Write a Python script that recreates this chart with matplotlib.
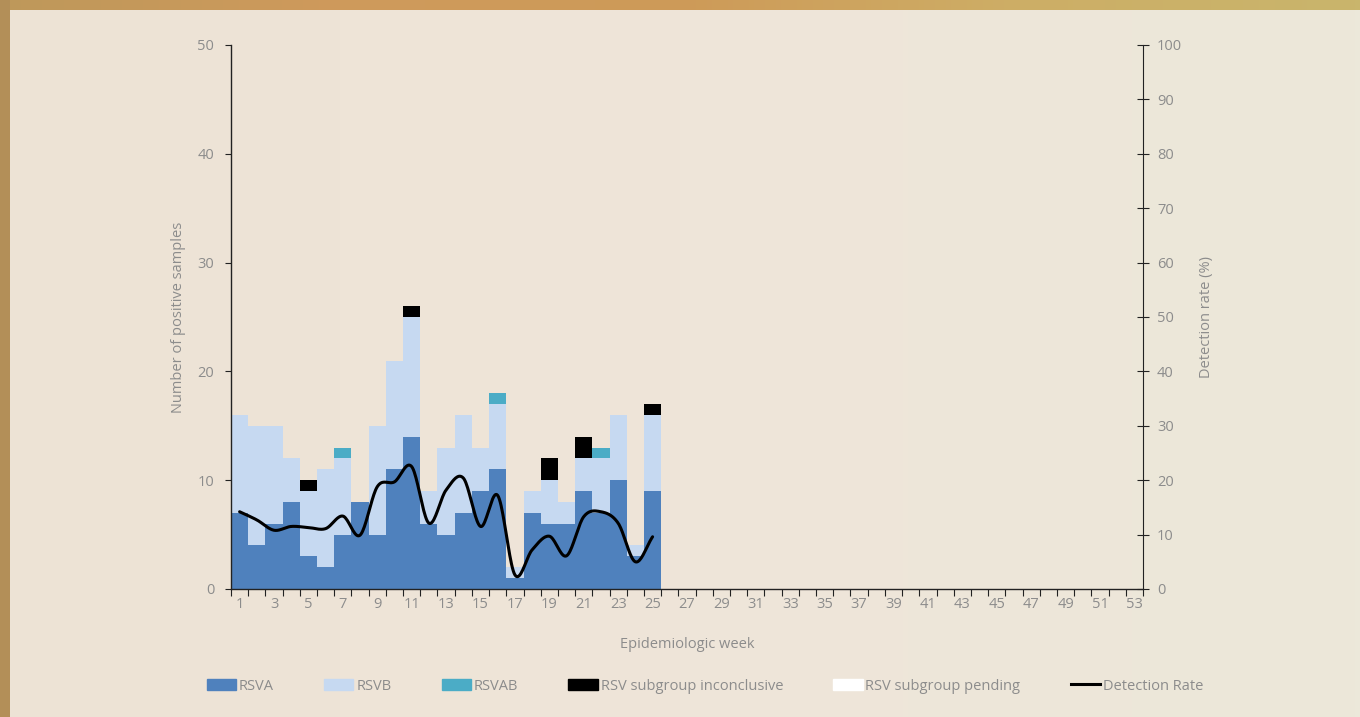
import numpy as np
import matplotlib as mpl
mpl.use('Agg')
import matplotlib.pyplot as plt
from matplotlib.patches import Rectangle
from matplotlib.lines import Line2D

plt.rcParams['font.family'] = ['Open Sans', 'DejaVu Sans']

# epidemiologic weeks shown on the axis
weeks = list(range(1, 54))

# weekly counts (weeks 1-25 reported, rest empty)
rsva = [7, 4, 6, 8, 3, 2, 5, 8, 5, 11, 14, 6, 5, 7, 9, 11, 1, 7, 6, 6, 9, 7, 10, 3, 9]
rsvb = [9, 11, 9, 4, 6, 9, 7, 0, 10, 10, 11, 3, 8, 9, 4, 6, 1, 2, 4, 2, 3, 5, 6, 1, 7]
rsvab = [0, 0, 0, 0, 0, 0, 1, 0, 0, 0, 0, 0, 0, 0, 0, 1, 0, 0, 0, 0, 0, 1, 0, 0, 0]
inconclusive = [0, 0, 0, 0, 1, 0, 0, 0, 0, 0, 1, 0, 0, 0, 0, 0, 0, 0, 2, 0, 2, 0, 0, 0, 1]
pending = [0] * 25

# detection rate (%)
rate = [14.2, 12.7, 10.8, 11.5, 11.3, 11.1, 13.4, 9.9, 18.8, 19.7, 22.5, 12.1, 18.2,
        20.4, 11.5, 17.2, 2.6, 7.2, 9.7, 6.1, 13.3, 14.2, 12.1, 5.0, 9.6]

C_A = '#4f81bd'
C_B = '#c6d9f1'
C_AB = '#4bacc6'
C_INC = '#000000'
C_PEN = '#ffffff'
GRAY = '#8c8c8c'


def pad(v):
    return np.array(v + [0] * (len(weeks) - len(v)), dtype=float)


def smooth(x, y, n=20):
    # catmull-rom curve through the points (drawing only)
    x = np.asarray(x, float)
    y = np.asarray(y, float)
    px = np.concatenate([[2 * x[0] - x[1]], x, [2 * x[-1] - x[-2]]])
    py = np.concatenate([[2 * y[0] - y[1]], y, [2 * y[-1] - y[-2]]])
    xs, ys = [], []
    t = np.linspace(0, 1, n, endpoint=False)
    for i in range(1, len(px) - 2):
        for p, out in ((px, xs), (py, ys)):
            p0, p1, p2, p3 = p[i - 1], p[i], p[i + 1], p[i + 2]
            out.extend(0.5 * (2 * p1 + (-p0 + p2) * t + (2 * p0 - 5 * p1 + 4 * p2 - p3) * t ** 2
                              + (-p0 + 3 * p1 - 3 * p2 + p3) * t ** 3))
    xs.append(x[-1])
    ys.append(y[-1])
    return xs, ys


fig = plt.figure(figsize=(13.6, 7.17), dpi=100)
fig.patch.set_facecolor('#ede4d6')

# background frame
bg = fig.add_axes([0, 0, 1, 1], zorder=-10)
bg.set_axis_off()
grad = np.linspace(0, 1, 256).reshape(1, -1)
cream = mpl.colors.LinearSegmentedColormap.from_list('c', ['#ede3d5', '#efe5d9', '#ece8da'])
bg.imshow(grad, aspect='auto', cmap=cream, extent=[0, 1, 0, 1])
gold = mpl.colors.LinearSegmentedColormap.from_list('g', ['#be985a', '#cf9a5c', '#cd9a58', '#cdae66', '#c9b56c'])
bg.imshow(grad, aspect='auto', cmap=gold, extent=[0, 1, 1 - 10 / 717, 1])
bg.add_patch(Rectangle((0, 0), 10 / 1360, 1, color='#b38f58', lw=0))
bg.set_xlim(0, 1)
bg.set_ylim(0, 1)

ax = fig.add_axes([231 / 1360, 1 - 589 / 717, (1143 - 231) / 1360, (589 - 45) / 717])
ax.set_facecolor('none')

x = np.array(weeks)
a, b, ab, inc, pen = pad(rsva), pad(rsvb), pad(rsvab), pad(inconclusive), pad(pending)
bottom = np.zeros(len(weeks))
for vals, col in ((a, C_A), (b, C_B), (ab, C_AB), (inc, C_INC), (pen, C_PEN)):
    ax.bar(x, vals, width=1.0, bottom=bottom, color=col, linewidth=0)
    bottom += vals

ax.set_xlim(0.5, 53.5)
ax.set_ylim(0, 50)
ax.set_yticks(range(0, 51, 10))
ax.set_xticks(np.arange(0.5, 54, 1))
ax.set_xticklabels([])
ax.set_xticks(weeks[::2], minor=True)
ax.set_xticklabels([str(w) for w in weeks[::2]], minor=True)
ax.tick_params(axis='x', which='major', length=5, color='#222222', width=0.8)
ax.tick_params(axis='x', which='minor', length=0, pad=6, labelsize=10.5, labelcolor=GRAY)
ax.tick_params(axis='y', length=4, color='#222222', width=0.8, labelsize=10.5, labelcolor=GRAY, pad=8)
for s in ('top', 'right'):
    ax.spines[s].set_visible(False)
for s in ('left', 'bottom'):
    ax.spines[s].set_color('#222222')
    ax.spines[s].set_linewidth(1.0)
ax.set_ylabel('Number of positive samples', color=GRAY, fontsize=10.5, labelpad=8)
ax.set_xlabel('Epidemiologic week', color=GRAY, fontsize=10.5, labelpad=18)

ax2 = ax.twinx()
ax2.set_ylim(0, 100)
ax2.set_yticks(range(0, 101, 10))
sx, sy = smooth(weeks[:len(rate)], rate)
ax2.plot(sx, sy, color='black', lw=2.2, solid_capstyle='round')
ax2.tick_params(axis='y', direction='inout', length=8, color='#222222', width=0.8,
                labelsize=10.5, labelcolor=GRAY, pad=6)
for s in ('top', 'left', 'bottom'):
    ax2.spines[s].set_visible(False)
ax2.spines['right'].set_color('#222222')
ax2.set_ylabel('Detection rate (%)', color=GRAY, fontsize=10.5, labelpad=12)

handles = [Rectangle((0, 0), 1, 1, color=c) for c in (C_A, C_B, C_AB, C_INC, C_PEN)]
handles.append(Line2D([], [], color='black', lw=2.2))
labels = ['RSVA', 'RSVB', 'RSVAB', 'RSV subgroup inconclusive', 'RSV subgroup pending', 'Detection Rate']
leg = fig.legend(handles, labels, ncol=6, loc='center', bbox_to_anchor=(705 / 1360, 1 - 686 / 717),
                 frameon=False, fontsize=10.5, handlelength=2.0, handleheight=0.7,
                 handletextpad=0.2, columnspacing=3.45, labelcolor=GRAY)

fig.savefig('out.png', dpi=100, facecolor=fig.get_facecolor())
